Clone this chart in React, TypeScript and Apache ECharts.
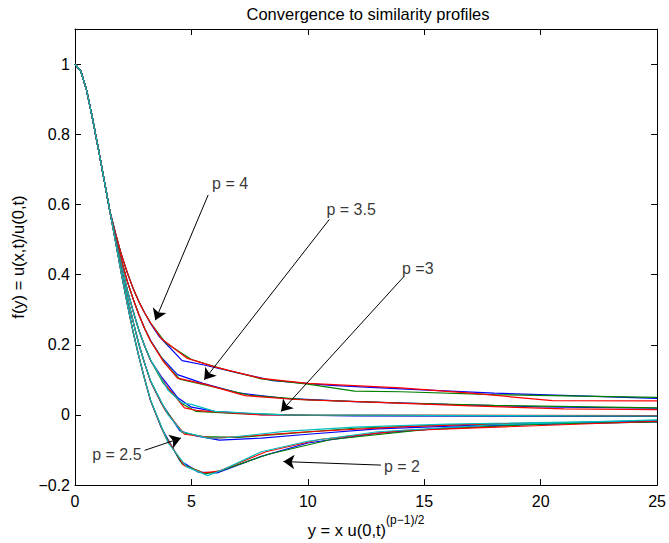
import React, { useEffect, useRef } from "react";
import * as echarts from "echarts";

const FONT = "'Liberation Sans', Arial, Helvetica, sans-serif";

const X_MIN = 0;
const X_MAX = 25;
const X_STEP = 5;
const Y_MIN = -0.2;
const Y_MAX = 1.1;
const Y_STEP = 0.2;

const TITLE = "Convergence to similarity profiles";
const Y_NAME = "f(y) = u(x,t)/u(0,t)";
const X_NAME_MAIN = "y = x u(0,t)";
const X_NAME_SUP = "(p\u22121)/2";

const COLOR_B = "#0000ff";
const COLOR_G = "#008000";
const COLOR_R = "#ff0000";
const COLOR_C = "#00bfbf";

// shared initial part of every profile
const commonHead: number[][] = [
  [0, 1], [0.25, 0.98], [0.5, 0.925], [0.75, 0.845], [1, 0.76], [1.25, 0.67], [1.5, 0.58],
];

// p = 4
const p4Mid = [[1.75, 0.515], [2, 0.455], [2.25, 0.405], [2.5, 0.36], [2.75, 0.322], [3, 0.29]];
const p4Blue = [[3.25, 0.26], [3.6, 0.225], [4.6, 0.155], [5.5, 0.143], [7, 0.12], [8.5, 0.098], [11, 0.084], [14, 0.074], [18, 0.062], [25, 0.047]];
const p4Green = [[3.25, 0.262], [3.9, 0.205], [5, 0.158], [6.5, 0.128], [8, 0.103], [10, 0.088], [12, 0.068], [14, 0.066], [18, 0.058], [25, 0.05]];
const p4Red = [[3.25, 0.262], [3.7, 0.218], [4.8, 0.162], [6, 0.137], [8, 0.104], [10, 0.09], [14, 0.077], [17, 0.062], [20.5, 0.041], [25, 0.04]];

// p = 3.5
const p35Mid = [[1.75, 0.505], [2, 0.44], [2.25, 0.38], [2.5, 0.33], [2.75, 0.285], [3, 0.245]];
const p35Blue = [[3.25, 0.212], [3.7, 0.165], [4.4, 0.115], [5.5, 0.09], [7, 0.063], [9, 0.047], [12, 0.038], [16, 0.03], [20, 0.023], [25, 0.019]];
const p35Green = [[3.25, 0.21], [3.9, 0.145], [4.5, 0.102], [5.3, 0.09], [7.5, 0.056], [10, 0.043], [14, 0.034], [18, 0.027], [25, 0.02]];
const p35Red = [[3.25, 0.21], [3.8, 0.152], [4.4, 0.105], [5.6, 0.087], [7.3, 0.055], [9.5, 0.044], [13, 0.036], [17, 0.026], [21, 0.017], [25, 0.015]];

// p = 3
const p3Mid = [[1.75, 0.5], [2, 0.425], [2.25, 0.355], [2.5, 0.295], [2.75, 0.24], [3, 0.195]];
const p3Blue = [[3.25, 0.155], [3.7, 0.11], [4.4, 0.05], [5, 0.022], [6, 0.01], [8, 0.001], [12, -0.003], [25, -0.004]];
const p3Green = [[3.25, 0.155], [3.8, 0.09], [4.6, 0.032], [5.2, 0.01], [7, 0.004], [10, -0.001], [25, -0.003]];
const p3Red = [[3.25, 0.155], [3.9, 0.085], [4.7, 0.02], [5.3, 0.012], [8, 0.0], [25, -0.002]];
const p3Cyan = [[3.25, 0.157], [4.0, 0.07], [4.6, 0.034], [5.0, 0.03], [6, 0.01], [9, 0.0], [25, -0.003]];

// p = 2.5
const p25Mid = [[1.75, 0.495], [2, 0.41], [2.25, 0.335], [2.5, 0.265], [2.75, 0.2], [3, 0.145]];
const p25Blue = [[3.25, 0.095], [3.7, 0.035], [4.5, -0.045], [5.2, -0.06], [6.2, -0.072], [8, -0.066], [10, -0.055], [13, -0.04], [17, -0.03], [25, -0.02]];
const p25Green = [[3.25, 0.095], [3.8, 0.022], [4.6, -0.05], [5.5, -0.062], [7, -0.064], [9, -0.054], [12, -0.038], [16, -0.028], [25, -0.018]];
const p25Red = [[3.25, 0.095], [3.9, 0.01], [4.7, -0.055], [6, -0.066], [7.5, -0.06], [10, -0.048], [14, -0.034], [18, -0.025], [25, -0.018]];
const p25Cyan = [[3.25, 0.097], [4.0, 0.0], [4.6, -0.048], [5.7, -0.066], [6.5, -0.065], [9, -0.047], [12, -0.035], [16, -0.026], [25, -0.016]];

// p = 2
const p2Mid = [[1.75, 0.49], [2, 0.4], [2.25, 0.315], [2.5, 0.235], [2.75, 0.165], [3, 0.1]];
const p2Blue = [[3.25, 0.04], [3.7, -0.035], [4.5, -0.13], [5.3, -0.163], [6.1, -0.165], [8, -0.118], [10, -0.08], [13, -0.052], [17, -0.032], [25, -0.017]];
const p2Green = [[3.25, 0.04], [3.8, -0.05], [4.6, -0.14], [5.6, -0.168], [6.3, -0.158], [8.3, -0.112], [11, -0.07], [15, -0.042], [20, -0.026], [25, -0.02]];
const p2Red = [[3.25, 0.04], [3.9, -0.065], [4.7, -0.145], [5.5, -0.165], [6.2, -0.16], [8.2, -0.105], [10.5, -0.07], [14, -0.045], [25, -0.018]];
const p2Cyan = [[3.25, 0.042], [4.0, -0.08], [4.8, -0.148], [5.7, -0.173], [6.4, -0.155], [8, -0.105], [10, -0.075], [13, -0.048], [18, -0.028], [25, -0.014]];

const CURVES: { mid: number[][]; tail: number[][]; color: string }[] = [
  { mid: p4Mid, tail: p4Blue, color: COLOR_B },
  { mid: p4Mid, tail: p4Green, color: COLOR_G },
  { mid: p4Mid, tail: p4Red, color: COLOR_R },
  { mid: p35Mid, tail: p35Blue, color: COLOR_B },
  { mid: p35Mid, tail: p35Green, color: COLOR_G },
  { mid: p35Mid, tail: p35Red, color: COLOR_R },
  { mid: p3Mid, tail: p3Blue, color: COLOR_B },
  { mid: p3Mid, tail: p3Green, color: COLOR_G },
  { mid: p3Mid, tail: p3Red, color: COLOR_R },
  { mid: p3Mid, tail: p3Cyan, color: COLOR_C },
  { mid: p25Mid, tail: p25Blue, color: COLOR_B },
  { mid: p25Mid, tail: p25Green, color: COLOR_G },
  { mid: p25Mid, tail: p25Red, color: COLOR_R },
  { mid: p25Mid, tail: p25Cyan, color: COLOR_C },
  { mid: p2Mid, tail: p2Blue, color: COLOR_B },
  { mid: p2Mid, tail: p2Green, color: COLOR_G },
  { mid: p2Mid, tail: p2Red, color: COLOR_R },
  { mid: p2Mid, tail: p2Cyan, color: COLOR_C },
];

// annotations (data coordinates)
const ANNOT_TEXT = ["p = 4", "p = 3.5", "p =3", "p = 2.5", "p = 2"];
const ANNOT_TEXT_POS = [[6.66, 0.661], [11.86, 0.585], [14.72, 0.416], [1.8, -0.113], [14.04, -0.146]];
const ANNOT_FROM = [[5.72, 0.627], [10.92, 0.557], [14.12, 0.394], [2.99, -0.101], [13.14, -0.143]];
const ANNOT_TO = [[3.45, 0.27], [5.55, 0.1], [8.85, 0.01], [4.55, -0.066], [8.95, -0.133]];

export default function App() {
  const ref = useRef<HTMLDivElement>(null);
  useEffect(() => {
    if (!ref.current) return;
    const chart = echarts.init(ref.current, undefined, { renderer: "svg" });

    const lineSeries = CURVES.map((c) => ({
      type: "line",
      xAxisIndex: 0,
      yAxisIndex: 0,
      data: [...commonHead, ...c.mid, ...c.tail],
      showSymbol: false,
      symbol: "none",
      silent: true,
      lineStyle: { color: c.color, width: 1.2 },
      itemStyle: { color: c.color },
    }));

    const tickStyle = { color: "#000", width: 1 };
    const axisLineStyle = { show: true, onZero: false, lineStyle: { color: "#000", width: 1 } };

    chart.setOption({
      animation: false,
      title: {
        text: TITLE,
        left: 368,
        top: 5,
        padding: 0,
        textAlign: "center",
        textStyle: { fontSize: 16.5, fontWeight: "normal", color: "#000", fontFamily: FONT },
      },
      grid: { left: 75, right: 8, top: 29, bottom: 52, show: false },
      xAxis: [
        {
          type: "value",
          min: X_MIN,
          max: X_MAX,
          interval: X_STEP,
          position: "bottom",
          axisLine: axisLineStyle,
          axisTick: { show: true, inside: true, length: 6, lineStyle: tickStyle },
          axisLabel: { margin: 8, color: "#000", fontSize: 16, fontFamily: FONT },
          splitLine: { show: false },
          name: `{a|${X_NAME_MAIN}}{b|${X_NAME_SUP}}`,
          nameLocation: "middle",
          nameGap: 27,
          nameTextStyle: {
            color: "#000",
            fontFamily: FONT,
            rich: {
              a: { fontSize: 16.5, lineHeight: 24, verticalAlign: "bottom", fontFamily: FONT, color: "#000" },
              b: { fontSize: 12, lineHeight: 10, verticalAlign: "top", fontFamily: FONT, color: "#000" },
            },
          },
        },
        {
          type: "value",
          min: X_MIN,
          max: X_MAX,
          interval: X_STEP,
          position: "top",
          axisLine: axisLineStyle,
          axisTick: { show: true, inside: true, length: 6, lineStyle: tickStyle },
          axisLabel: { show: false },
          splitLine: { show: false },
        },
      ],
      yAxis: [
        {
          type: "value",
          min: Y_MIN,
          max: Y_MAX,
          interval: Y_STEP,
          position: "left",
          axisLine: axisLineStyle,
          axisTick: { show: true, inside: true, length: 6, lineStyle: tickStyle },
          axisLabel: {
            margin: 5,
            color: "#000",
            fontSize: 16,
            fontFamily: FONT,
            formatter: (v: number) => (v > 1.05 ? "" : String(Math.round(v * 10) / 10).replace("-", "\u2212")),
          },
          splitLine: { show: false },
          name: Y_NAME,
          nameLocation: "middle",
          nameRotate: 90,
          nameGap: 49,
          nameTextStyle: { color: "#000", fontSize: 16.5, fontFamily: FONT },
        },
        {
          type: "value",
          min: Y_MIN,
          max: Y_MAX,
          interval: Y_STEP,
          position: "right",
          axisLine: axisLineStyle,
          axisTick: { show: true, inside: true, length: 6, lineStyle: tickStyle },
          axisLabel: { show: false },
          splitLine: { show: false },
        },
      ],
      series: [
        ...lineSeries,
        {
          type: "line",
          xAxisIndex: 0,
          yAxisIndex: 0,
          data: [],
          silent: true,
          markLine: {
            silent: true,
            animation: false,
            symbol: ["none", "arrow"],
            symbolSize: 11,
            label: { show: false },
            lineStyle: { color: "#000", width: 1, type: "solid" },
            itemStyle: { color: "#000" },
            emphasis: { disabled: true },
            data: ANNOT_FROM.map((f, i) => [{ coord: f }, { coord: ANNOT_TO[i] }]),
          },
          z: 10,
        },
        {
          type: "scatter",
          xAxisIndex: 0,
          yAxisIndex: 0,
          symbolSize: 0,
          silent: true,
          z: 11,
          data: ANNOT_TEXT.map((t, i) => ({
            value: ANNOT_TEXT_POS[i],
            label: {
              show: true,
              position: "inside",
              formatter: t,
              color: "#000",
              fontSize: 16,
              fontFamily: FONT,
            },
          })),
        },
      ],
    });
    return () => chart.dispose();
  }, []);
  return (
    <div
      ref={ref}
      style={{ position: "absolute", left: 0, top: 0, width: 669, height: 543, background: "#fff" }}
    />
  );
}
